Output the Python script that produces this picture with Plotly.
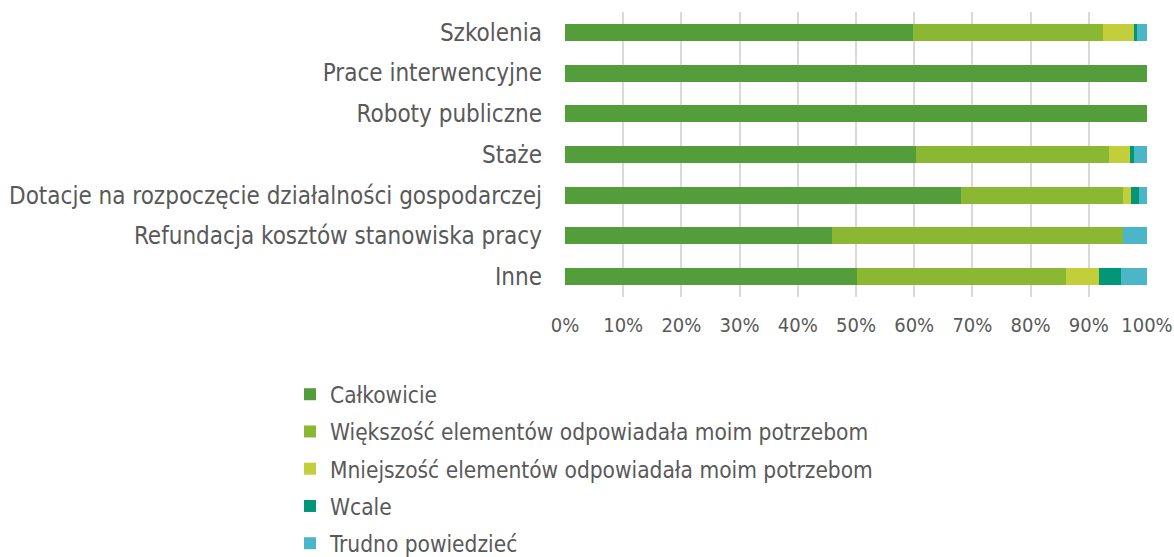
import plotly.graph_objects as go

categories = [
    "Szkolenia",
    "Prace interwencyjne",
    "Roboty publiczne",
    "Staże",
    "Dotacje na rozpoczęcie działalności gospodarczej",
    "Refundacja kosztów stanowiska pracy",
    "Inne",
]

series_names = [
    "Całkowicie",
    "Większość elementów odpowiadała moim potrzebom",
    "Mniejszość elementów odpowiadała moim potrzebom",
    "Wcale",
    "Trudno powiedzieć",
]

calkowicie = [59.8, 100.0, 100.0, 60.3, 68.1, 45.8, 50.2]
wiekszosc = [32.6, 0.0, 0.0, 33.1, 27.8, 50.1, 35.9]
mniejszosc = [5.3, 0.0, 0.0, 3.7, 1.4, 0.0, 5.6]
wcale = [0.6, 0.0, 0.0, 0.7, 1.4, 0.0, 3.9]
trudno = [1.7, 0.0, 0.0, 2.2, 1.3, 4.1, 4.4]

series_values = [calkowicie, wiekszosc, mniejszosc, wcale, trudno]
colors = ["#539E3A", "#8BB832", "#C2CE3A", "#009676", "#4BB6C7"]

x_ticks = list(range(0, 101, 10))

FONT = "DejaVu Sans Condensed, DejaVu Sans"
TEXT = "#595959"

fig = go.Figure()
for i, (name, vals, col) in enumerate(zip(series_names, series_values, colors)):
    fig.add_trace(go.Bar(
        y=categories,
        x=vals,
        name=name,
        orientation="h",
        marker=dict(color=col, line=dict(width=0)),
        legendgroup=f"g{i}",
        hoverinfo="x+name",
    ))

fig.update_layout(
    barmode="stack",
    bargap=0.58,
    width=1174,
    height=557,
    margin=dict(l=565, r=27, t=12, b=260, autoexpand=False),
    paper_bgcolor="white",
    plot_bgcolor="white",
    font=dict(family=FONT, size=22, color=TEXT),
    legend=dict(
        orientation="v",
        x=-0.4725,
        xanchor="left",
        y=-0.267,
        yanchor="top",
        traceorder="grouped",
        tracegroupgap=5,
        font=dict(family=FONT, size=22.5, color=TEXT),
        itemwidth=30,
    ),
    showlegend=True,
)

fig.update_xaxes(
    range=[0, 100],
    tickvals=x_ticks,
    ticktext=[f"{v}%" for v in x_ticks],
    showgrid=True,
    gridcolor="#D9D9D9",
    gridwidth=1.5,
    zeroline=False,
    showline=False,
    ticks="",
    automargin=False,
    ticklabeloverflow="allow",
    ticklabelstandoff=14,
    tickfont=dict(family=FONT, size=20, color=TEXT),
    fixedrange=True,
)

fig.update_yaxes(
    categoryorder="array",
    categoryarray=categories,
    autorange="reversed",
    showgrid=False,
    zeroline=False,
    showline=False,
    ticks="",
    automargin=False,
    ticklabelstandoff=22,
    tickfont=dict(family=FONT, size=24, color=TEXT),
    fixedrange=True,
)

fig.write_html("out.html")
